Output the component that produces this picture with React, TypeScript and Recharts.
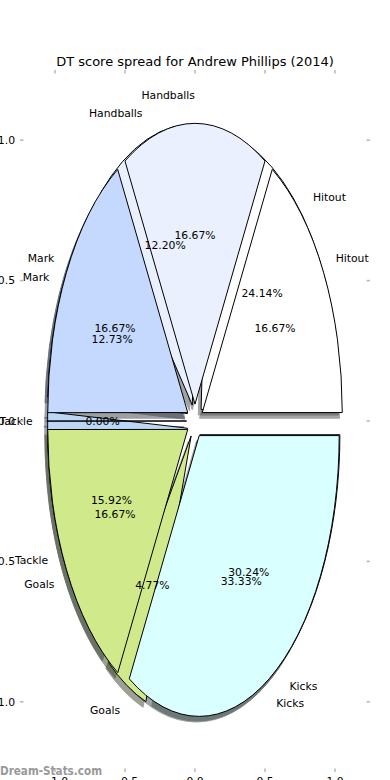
import React from "react";
import { ScatterChart, Scatter, XAxis, YAxis } from "recharts";

// ---------- data ----------
const categories = ["Hitout", "Handballs", "Mark", "Tackle", "Goals", "Kicks"];
const actualShare = [24.14, 12.2, 12.73, 15.92, 4.77, 30.24];
const equalShare = [16.67, 16.67, 16.67, 0.0, 16.67, 33.33];
const sliceColors = ["#ffffff", "#eaf0fd", "#c5d9fe", "#bcd6f6", "#d0ea8b", "#d9ffff"];
const axisTicks = [-1, -0.5, 0, 0.5, 1];
const axisDomain = [-1.25, 1.25];
const titleText = "DT score spread for Andrew Phillips (2014)";
const watermarkText = "Dream-Stats.com";

// ---------- layout / style ----------
const W = 390;
const H = 780;
const PLOT_LEFT = 20;
const PLOT_TOP = 70;
const PLOT_W = 350;
const PLOT_H = 702;
const EXPLODE = 0.06;
const RADIUS = 1;
const LABEL_DIST = 1.1;
const PCT_DIST = 0.6;
const SHADOW_DX = -0.02;
const SHADOW_DY = -0.02;
const FONT = "DejaVu Sans, Verdana, sans-serif";
const FS = 10.8;
const TICK_COLOR = "#bbbbbb";

type Pt = { x: number; y: number };

function geometry(values: number[]) {
  const total = values.reduce((a, b) => a + b, 0);
  let acc = 0;
  return values.map((v, i) => {
    const f1 = acc / total;
    acc += v;
    const f2 = acc / total;
    const a1 = 2 * Math.PI * f1;
    const a2 = 2 * Math.PI * f2;
    const am = Math.PI * (f1 + f2);
    return {
      i,
      pct: (v / total) * 100,
      a1,
      a2,
      am,
      ox: EXPLODE * Math.cos(am),
      oy: EXPLODE * Math.sin(am),
    };
  });
}

type Geo = ReturnType<typeof geometry>[number];

function wedgePoints(g: Geo, dx = 0, dy = 0): Pt[] {
  const cx = g.ox + dx;
  const cy = g.oy + dy;
  return [
    { x: cx, y: cy },
    { x: cx + RADIUS * Math.cos(g.a1), y: cy + RADIUS * Math.sin(g.a1) },
    { x: cx + RADIUS * Math.cos(g.a2), y: cy + RADIUS * Math.sin(g.a2) },
    { x: cx + RADIUS, y: cy + RADIUS }, // radius reference (gives pixel radii via the scales)
  ];
}

const geoActual = geometry(actualShare);
const geoEqual = geometry(equalShare);

function shade(hex: string) {
  const n = parseInt(hex.slice(1), 16);
  const r = Math.round(((n >> 16) & 255) * 0.3);
  const g = Math.round(((n >> 8) & 255) * 0.3);
  const b = Math.round((n & 255) * 0.3);
  return `rgb(${r},${g},${b})`;
}

const makeWedge = (g: Geo, fill: string, stroke: string, opacity: number) => (props: any) => {
  const pts = props.points as Pt[];
  if (!pts || pts.length < 4) return <g />;
  const [c, s, e, r] = pts;
  const rx = Math.abs(r.x - c.x);
  const ry = Math.abs(r.y - c.y);
  const large = g.a2 - g.a1 > Math.PI ? 1 : 0;
  const d =
    g.a2 - g.a1 < 1e-9
      ? `M${c.x},${c.y}L${s.x},${s.y}Z`
      : `M${c.x},${c.y}L${s.x},${s.y}A${rx},${ry} 0 ${large} 0 ${e.x},${e.y}Z`;
  return (
    <path
      d={d}
      fill={fill}
      stroke={stroke}
      strokeWidth={1}
      strokeLinejoin="miter"
      strokeMiterlimit={10}
      opacity={opacity}
    />
  );
};

function labelData(geo: Geo[]) {
  return geo.map((g) => {
    const x = g.ox + LABEL_DIST * RADIUS * Math.cos(g.am);
    const y = g.oy + LABEL_DIST * RADIUS * Math.sin(g.am);
    return { x, y, text: categories[g.i], anchor: x > 0 ? "start" : "end" };
  });
}
function pctData(geo: Geo[]) {
  return geo.map((g) => ({
    x: g.ox + PCT_DIST * RADIUS * Math.cos(g.am),
    y: g.oy + PCT_DIST * RADIUS * Math.sin(g.am),
    text: `${g.pct.toFixed(2)}%`,
    anchor: "middle",
  }));
}

const textShape = (p: any) => (
  <text
    x={p.cx}
    y={p.cy}
    dy="0.35em"
    textAnchor={p.payload.anchor}
    fontFamily={FONT}
    fontSize={FS}
    fill="#000"
  >
    {p.payload.text}
  </text>
);

const nothing = () => <g />;

const fmtTick = (v: number) => (v < 0 ? "\u2212" + Math.abs(v).toFixed(1) : v.toFixed(1));

const YTick = (props: any) => {
  const { x, y, payload } = props;
  const ax = x + 5;
  return (
    <g>
      <line x1={ax} x2={ax + 3.5} y1={y} y2={y} stroke={TICK_COLOR} strokeWidth={1.6} />
      <line x1={ax + PLOT_W - 3.5} x2={ax + PLOT_W} y1={y} y2={y} stroke={TICK_COLOR} strokeWidth={1.6} />
      <text x={x} y={y} dy="0.35em" textAnchor="end" fontFamily={FONT} fontSize={FS} fill="#000">
        {fmtTick(payload.value)}
      </text>
    </g>
  );
};

const XTick = (props: any) => {
  const { x, y, payload } = props;
  const ay = y - 5;
  return (
    <g>
      <line x1={x} x2={x} y1={ay} y2={ay - 3.5} stroke={TICK_COLOR} strokeWidth={1.6} />
      <line x1={x} x2={x} y1={ay - PLOT_H} y2={ay - PLOT_H + 3.5} stroke={TICK_COLOR} strokeWidth={1.6} />
      <text x={x} y={y} dy="0.73em" textAnchor="middle" fontFamily={FONT} fontSize={FS} fill="#000">
        {fmtTick(payload.value)}
      </text>
    </g>
  );
};

export default function App() {
  const shadows: React.ReactNode[] = [];
  const wedges: React.ReactNode[] = [];
  [
    { name: "actual", geo: geoActual },
    { name: "equal", geo: geoEqual },
  ].forEach(({ name, geo }) => {
    geo.forEach((g) => {
      const col = sliceColors[g.i];
      shadows.push(
        <Scatter
          key={`sh-${name}-${g.i}`}
          data={wedgePoints(g, SHADOW_DX, SHADOW_DY)}
          shape={nothing}
          line={makeWedge(g, shade(col), shade(col), 0.5)}
          isAnimationActive={false}
          legendType="none"
        />
      );
    });
  });
  [
    { name: "actual", geo: geoActual },
    { name: "equal", geo: geoEqual },
  ].forEach(({ name, geo }) => {
    geo.forEach((g) => {
      wedges.push(
        <Scatter
          key={`w-${name}-${g.i}`}
          data={wedgePoints(g)}
          shape={nothing}
          line={makeWedge(g, sliceColors[g.i], "#000", 1)}
          isAnimationActive={false}
          legendType="none"
        />
      );
    });
  });

  return (
    <div style={{ position: "absolute", left: 0, top: 0, width: W, height: H, background: "#fff" }}>
      <ScatterChart width={W} height={H} margin={{ top: PLOT_TOP, right: W - PLOT_LEFT - PLOT_W, bottom: 0, left: 0 }}>
        <XAxis
          type="number"
          dataKey="x"
          domain={axisDomain}
          ticks={axisTicks}
          height={H - PLOT_TOP - PLOT_H}
          tickSize={0}
          tickMargin={5}
          axisLine={false}
          tickLine={false}
          tick={XTick}
          interval={0}
        />
        <YAxis
          type="number"
          dataKey="y"
          domain={axisDomain}
          ticks={axisTicks}
          width={PLOT_LEFT}
          tickSize={0}
          tickMargin={5}
          axisLine={false}
          tickLine={false}
          tick={YTick}
          interval={0}
        />
        {shadows}
        {wedges}
        <Scatter data={labelData(geoActual)} shape={textShape} isAnimationActive={false} legendType="none" />
        <Scatter data={pctData(geoActual)} shape={textShape} isAnimationActive={false} legendType="none" />
        <Scatter data={labelData(geoEqual)} shape={textShape} isAnimationActive={false} legendType="none" />
        <Scatter data={pctData(geoEqual)} shape={textShape} isAnimationActive={false} legendType="none" />
      </ScatterChart>
      <svg
        width={W}
        height={H}
        style={{ position: "absolute", left: 0, top: 0, pointerEvents: "none" }}
      >
        <text x={W / 2} y={66} textAnchor="middle" fontFamily={FONT} fontSize={13} fill="#000">
          {titleText}
        </text>
        <text
          x={0}
          y={775}
          fontFamily={FONT}
          fontSize={12}
          fontWeight="bold"
          fill="#999999"
          textLength={102}
          lengthAdjust="spacingAndGlyphs"
        >
          {watermarkText}
        </text>
      </svg>
    </div>
  );
}
